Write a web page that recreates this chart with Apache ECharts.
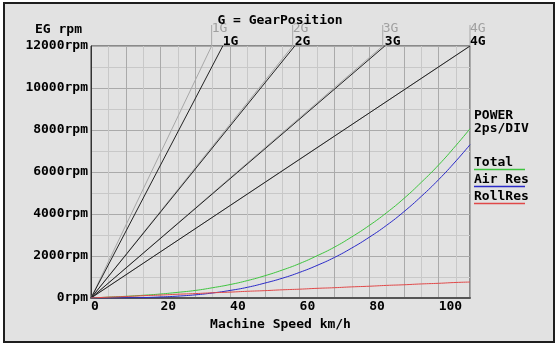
<!DOCTYPE html>
<html>
<head>
<meta charset="utf-8">
<script src="https://cdn.jsdelivr.net/npm/echarts@6/dist/echarts.min.js"></script>
<style>
html,body{margin:0;padding:0;background:#fff;}
#c{width:560px;height:346px;}
</style>
</head>
<body>
<div id="c"></div>
<script>
// ---- data ----
var speedKmh = [0,5,10,15,20,25,30,35,40,45,50,55,60,65,70,75,80,85,90,95,100,105,109];
var totalPs  = [0,0.04,0.08,0.13,0.19,0.27,0.36,0.49,0.64,0.83,1.06,1.33,1.64,2.01,2.42,2.91,3.45,4.06,4.74,5.51,6.34,7.27,8.06];
var airResPs = [0,0.00,0.01,0.02,0.05,0.09,0.15,0.24,0.36,0.51,0.71,0.94,1.22,1.55,1.93,2.38,2.89,3.46,4.11,4.84,5.64,6.53,7.30];
var rollResPs= [0,0.04,0.07,0.11,0.14,0.18,0.21,0.25,0.28,0.32,0.35,0.39,0.42,0.46,0.49,0.53,0.56,0.60,0.63,0.67,0.70,0.74,0.76];
var gears = ['1G','2G','3G','4G'];
var gearSpeedAtMaxRpm      = [37.9, 58.6, 84.5, 109];   // black lines
var gearSpeedAtMaxRpmAlt   = [34.7, 58.0, 83.9, 109];   // gray lines
var maxRpm = 12000;
var altTickRpm = 13000;
var legendNames = ['Total','Air Res','RollRes'];

var FONT = 'DejaVu Sans Mono';
var FW = 'bold';
var cGreen = '#3ec43e', cBlue = '#2a2ac8', cRed = '#e04848';

function zip(xs, ys){ return xs.map(function(x,i){return [x, ys[i]];}); }

var series = [];
gears.forEach(function(g,i){
  var s = gearSpeedAtMaxRpmAlt[i];
  series.push({
    type:'line', xAxisIndex:0, yAxisIndex:0, clip:false, silent:true,
    symbol:'circle', symbolSize:0,
    lineStyle:{color:'#a8a8a8', width:1},
    itemStyle:{color:'#a8a8a8'},
    data:[[0,0],[s,maxRpm],{value:[s,altTickRpm], label:{show:true, formatter:g, position:'right', distance:0, offset:[0,4], color:'#a0a0a0', fontFamily:FONT, fontSize:13}}]
  });
});
gears.forEach(function(g,i){
  var s = gearSpeedAtMaxRpm[i];
  series.push({
    type:'line', xAxisIndex:0, yAxisIndex:0, clip:false, silent:true,
    symbol:'circle', symbolSize:0,
    lineStyle:{color:'#222', width:1},
    itemStyle:{color:'#222'},
    data:[[0,0],{value:[s,maxRpm], label:{show:true, formatter:g, position:'right', distance:0, offset:[0,-4], color:'#000', fontFamily:FONT, fontSize:13, fontWeight:FW}}]
  });
});
[[totalPs,cGreen],[airResPs,cBlue],[rollResPs,cRed]].forEach(function(p,i){
  series.push({
    name:legendNames[i], type:'line', xAxisIndex:0, yAxisIndex:1, silent:true,
    showSymbol:false, symbol:'none', smooth:true,
    lineStyle:{color:p[1], width:1}, itemStyle:{color:p[1]},
    data:zip(speedKmh, p[0])
  });
});

var legendGraphics = [];
var ly = [163, 180, 197], uy = [169.5, 186.5, 203.5], lc = [cGreen, cBlue, cRed];
legendNames.forEach(function(n,i){
  legendGraphics.push({type:'text', left:474, top:ly[i]-7, style:{text:n, fill:'#000', font:FW+' 13px "'+FONT+'"'}});
  legendGraphics.push({type:'line', shape:{x1:474,y1:uy[i],x2:525,y2:uy[i]}, style:{stroke:lc[i], lineWidth:1.5}});
});

var chart = echarts.init(document.getElementById('c'), null, {renderer:'canvas'});
chart.setOption({
  animation:false,
  backgroundColor:'#ffffff',
  title:{text:'G = GearPosition', left:'center', top:9, textStyle:{fontFamily:FONT, fontSize:13, fontWeight:FW, color:'#000'}},
  graphic:[
    {type:'rect', z:-100, shape:{x:4,y:3,width:550,height:339}, style:{fill:'#e2e2e2', stroke:'#1e1e1e', lineWidth:2}},
    {type:'text', left:474, top:109, style:{text:'POWER', fill:'#000', font:FW+' 13px "'+FONT+'"'}},
    {type:'text', left:474, top:122, style:{text:'2ps/DIV', fill:'#000', font:FW+' 13px "'+FONT+'"'}}
  ].concat(legendGraphics),
  grid:{left:91, top:46, right:90, bottom:48, show:true, borderColor:'#333', borderWidth:1, backgroundColor:'transparent'},
  xAxis:[{
    type:'value', min:0, max:109, interval:5,
    name:'Machine Speed km/h', nameLocation:'middle', nameGap:25,
    nameTextStyle:{fontFamily:FONT, fontSize:13, fontWeight:FW, color:'#000', verticalAlign:'middle'},
    axisLine:{show:true, onZero:false, lineStyle:{color:'#555', width:2}},
    axisTick:{show:false},
    axisLabel:{margin:2, align:'left', fontFamily:FONT, fontSize:13, fontWeight:FW, color:'#000',
      formatter:function(v){return v%20===0 ? String(v) : '';}},
    splitLine:{show:true, lineStyle:{color:['#aaaaaa','#c8c8c8'], width:1}}
  }],
  yAxis:[{
    type:'value', min:0, max:maxRpm, interval:1000,
    name:'EG rpm', nameLocation:'end', nameGap:16,
    nameTextStyle:{fontFamily:FONT, fontSize:13, fontWeight:FW, color:'#000', align:'right', verticalAlign:'middle', padding:[0,9,0,0]},
    axisLine:{show:true, lineStyle:{color:'#333', width:1}},
    axisTick:{show:false},
    axisLabel:{margin:3, fontFamily:FONT, fontSize:13, fontWeight:FW, color:'#000', padding:[0,0,5,0],
      formatter:function(v){return v%2000===0 ? v+'rpm' : '';}},
    splitLine:{show:true, lineStyle:{color:['#aaaaaa','#c8c8c8'], width:1}}
  },{
    type:'value', min:0, max:12, show:false, splitLine:{show:false}
  }],
  series:series
});
</script>
</body>
</html>
